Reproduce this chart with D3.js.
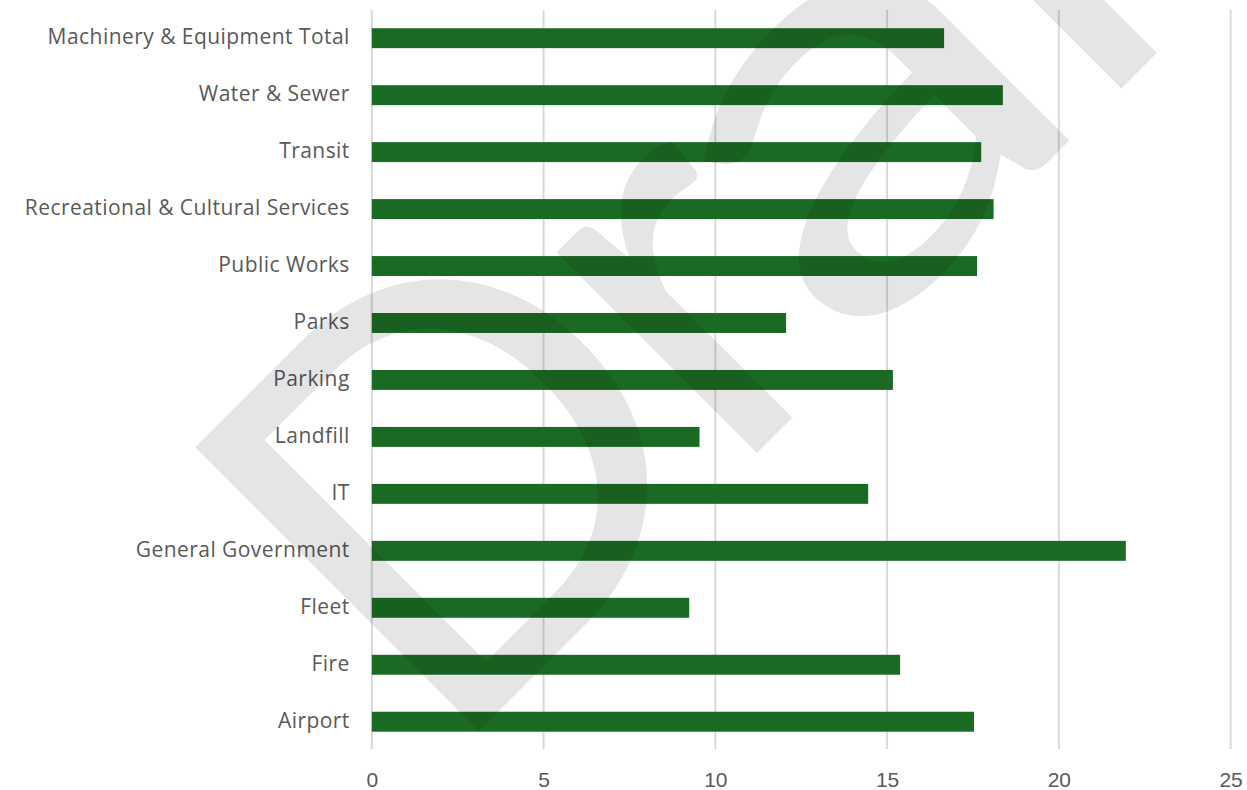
<!DOCTYPE html>
<html>
<head>
<meta charset="utf-8">
<script src="https://cdn.jsdelivr.net/npm/d3@7/dist/d3.min.js"></script>
<style>
  html, body { margin: 0; padding: 0; background: #ffffff; }
  svg { display: block; }
</style>
</head>
<body>
<svg id="chart" width="1247" height="790"></svg>
<script>
// Asset categories, listed top to bottom
const categories = [
  "Machinery & Equipment Total",
  "Water & Sewer",
  "Transit",
  "Recreational & Cultural Services",
  "Public Works",
  "Parks",
  "Parking",
  "Landfill",
  "IT",
  "General Government",
  "Fleet",
  "Fire",
  "Airport"
];

// Value for each category
const values = [16.66, 18.37, 17.74, 18.10, 17.62, 12.06, 15.17, 9.54, 14.45, 21.95, 9.24, 15.38, 17.53];

// Value axis ticks
const xTicks = [0, 5, 10, 15, 20, 25];

const rows = categories.map((c, i) => ({ category: c, value: values[i] }));

const W = 1247, H = 790;
const margin = { top: 9.7, right: 16.4, bottom: 39.8, left: 371.8 };

const svg = d3.select("#chart");

const x = d3.scaleLinear()
  .domain([0, 25])
  .range([margin.left, W - margin.right]);

const y = d3.scaleBand()
  .domain(categories)
  .range([margin.top, H - margin.bottom])
  .paddingInner(0.65)
  .paddingOuter(0.325);

const labelColor = "#595959";

// Vertical gridlines
svg.append("g")
  .selectAll("line")
  .data(xTicks)
  .join("line")
  .attr("x1", d => x(d))
  .attr("x2", d => x(d))
  .attr("y1", 10)
  .attr("y2", 749)
  .attr("stroke", "#d9d9d9")
  .attr("stroke-width", 2);

// Bars
svg.append("g")
  .selectAll("rect")
  .data(rows)
  .join("rect")
  .attr("x", x(0))
  .attr("y", d => y(d.category))
  .attr("width", d => x(d.value) - x(0))
  .attr("height", y.bandwidth())
  .attr("fill", "#1b6a24");

// Category axis
const yAxis = svg.append("g")
  .attr("transform", `translate(${x(0)},0)`)
  .call(d3.axisLeft(y).tickSize(0).tickPadding(22));
yAxis.select(".domain").remove();
yAxis.selectAll("text")
  .attr("fill", labelColor)
  .attr("dy", "0.28em")
  .style("font-family", "'Open Sans', sans-serif")
  .style("font-size", "21px")
  .style("letter-spacing", "0.45px");

// Value axis
const xAxis = svg.append("g")
  .attr("transform", `translate(0,${H - margin.bottom})`)
  .call(d3.axisBottom(x).tickValues(xTicks).tickSize(0).tickPadding(22));
xAxis.select(".domain").remove();
xAxis.selectAll("text")
  .attr("fill", labelColor)
  .style("font-family", "'Liberation Sans', Arial, sans-serif")
  .style("font-size", "21px");

// "Draft" watermark laid diagonally over the chart
const wm = svg.append("g")
  .attr("transform", "translate(478,732) rotate(-45)")
  .attr("fill", "#000000")
  .attr("fill-opacity", 0.1)
  .style("font-family", "Lato, sans-serif")
  .style("font-size", "560px");
const letters = [
  { ch: "D", at: -50, sx: 1 },
  { ch: "r", at: 355, sx: 1 },
  { ch: "a", at: 522, sx: 1.3 },
  { ch: "f", at: 852, sx: 1 },
  { ch: "t", at: 1040, sx: 1 }
];
wm.selectAll("text")
  .data(letters)
  .join("text")
  .attr("transform", d => `translate(${d.at},0) scale(${d.sx},1)`)
  .text(d => d.ch);
</script>
</body>
</html>
